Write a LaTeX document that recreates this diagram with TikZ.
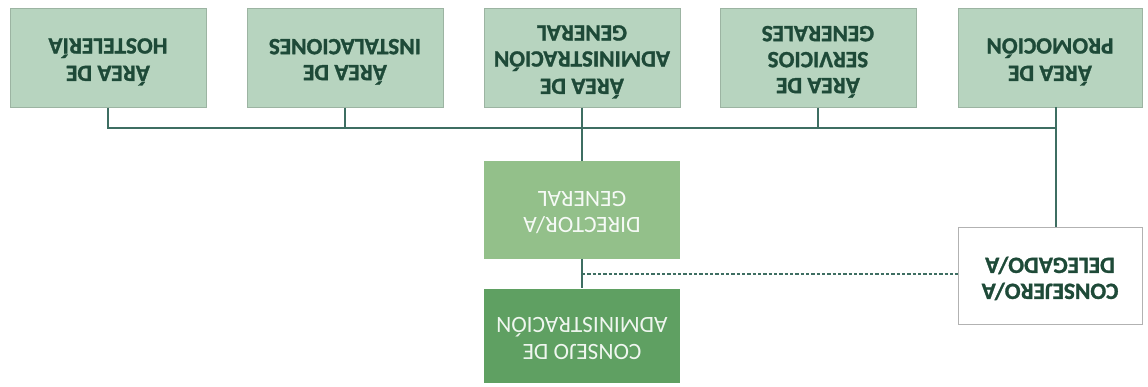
\documentclass[tikz,border=0pt]{standalone}
\usepackage{graphicx}
\usepackage{fontspec}
\setmainfont{Carlito}[BoldFeatures={FakeBold=1.2}]
\usetikzlibrary{arrows}

\definecolor{areafill}{HTML}{B7D4BF}
\definecolor{dirfill}{HTML}{93C08A}
\definecolor{consfill}{HTML}{5FA062}
\definecolor{darktext}{HTML}{1E4A38}
\definecolor{linkcol}{HTML}{3E6E62}

\newcommand{\upside}[1]{\rotatebox[origin=c]{180}{\begin{tabular}{@{}c@{}}#1\end{tabular}}}

\tikzset{
  areabox/.style={fill=areafill, draw=areafill!85!black, line width=0.3pt, minimum width=147pt, minimum height=74pt,
    font=\fontsize{17.5}{19.5}\selectfont\bfseries, text=darktext, inner sep=0pt},
  dirbox/.style={fill=dirfill, minimum width=147pt, minimum height=73pt,
    font=\fontsize{17.5}{19.5}\selectfont, text=white!92!dirfill, inner sep=0pt},
  consbox/.style={fill=consfill, minimum width=147pt, minimum height=71pt,
    font=\fontsize{17.5}{19.5}\selectfont, text=white!90!consfill, inner sep=0pt},
  delbox/.style={fill=white, draw=gray!60, line width=0.5pt, minimum width=138pt, minimum height=73pt,
    font=\fontsize{17.5}{19.5}\selectfont\bfseries, text=darktext, inner sep=0pt},
  link/.style={draw=linkcol, line width=1.2pt},
  dashlink/.style={draw=linkcol, line width=1pt, dash pattern=on 2.5pt off 1.5pt}
}

\begin{document}
\begin{tikzpicture}[x=0.75pt,y=-0.75pt]
\useasboundingbox (0,0) rectangle (1148,386);

\node[areabox] (hoste) at (108,58) {\upside{ÁREA DE\\HOSTELERÍA}};
\node[areabox] (insta) at (345,58) {\upside{ÁREA DE\\INSTALACIONES}};
\node[areabox] (admin) at (582,58) {\upside{ÁREA DE\\ADMINISTRACIÓN\\GENERAL}};
\node[areabox] (servi) at (818,58) {\upside{ÁREA DE\\SERVICIOS\\GENERALES}};
\node[areabox, minimum width=138pt] (promo) at (1050,58) {\upside{ÁREA DE\\PROMOCIÓN}};

\node[dirbox] (direc) at (582,210) {\upside{DIRECTOR/A\\GENERAL}};
\node[consbox] (conse) at (582,336) {\upside{CONSEJO DE\\ADMINISTRACIÓN}};
\node[delbox] (deleg) at (1050,276) {\upside{CONSEJERO/A\\DELEGADO/A}};

\coordinate (bar) at (582,128);
\coordinate (ptop) at (1056,107);
\coordinate (pbot) at (1056,227);
\coordinate (dash) at (582,274);

\draw[link] (hoste.south) |- (bar);
\draw[link] (insta.south) |- (bar);
\draw[link] (servi.south) |- (bar);
\draw[link] (ptop) |- (bar);
\draw[link] (admin.south) -- (direc.north);
\draw[link] (direc.south) -- (conse.north);
\draw[link] (ptop) -- (pbot);
\draw[dashlink] (dash) -- (dash -| deleg.west);

\end{tikzpicture}
\end{document}
